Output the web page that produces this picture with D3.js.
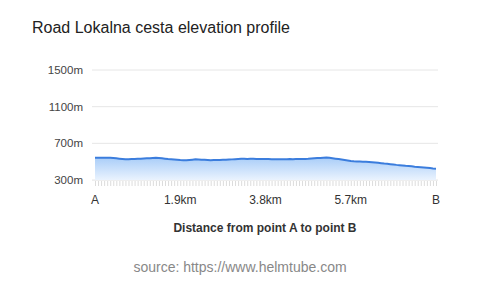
<!DOCTYPE html>
<html><head><meta charset="utf-8">
<script src="https://cdn.jsdelivr.net/npm/d3@7"></script>
<style>body{margin:0;background:#fff}svg{display:block;font-family:"Liberation Sans",Arial,sans-serif}</style>
</head><body><svg id="c" width="480" height="287"></svg>
<script>
const title = "Road Lokalna cesta elevation profile";
const xAxisTitle = "Distance from point A to point B";
const sourceText = "source: https://www.helmtube.com";
const totalKm = 7.6;
const xTickLabels = ["A", "1.9km", "3.8km", "5.7km", "B"];
const yTicks = [300, 700, 1100, 1500];
const elevation = [
543,544,543,544,543,542,
539,536,533,530,527,
527,528,529,531,532,
534,536,538,540,542,
540,537,533,529,526,
523,520,517,515,
516,519,522,525,
524,522,520,518,516,
517,518,519,520,521,
523,525,527,529,531,
531,530,531,531,
530,530,529,528,528,527,
527,526,526,527,527,528,527,528,528,528,
530,532,535,537,539,541,544,546,
543,538,533,528,523,518,513,508,504,
502,501,499,498,496,494,
491,488,484,480,477,473,469,465,
462,459,455,452,449,445,442,
439,436,433,430,426,423
];

const svg = d3.select("#c");
const n = elevation.length;
const x = d3.scaleLinear().domain([0, n - 1]).range([95, 436]);
const y = d3.scaleLinear().domain([300, 1500]).range([180, 70]);

svg.append("text").attr("x", 32).attr("y", 33).attr("font-size", 16).attr("fill", "#222").text(title);

// gridlines
svg.append("g").selectAll("line").data(yTicks).join("line")
  .attr("x1", 92).attr("x2", 438).attr("y1", d => y(d)).attr("y2", d => y(d))
  .attr("stroke", "#e6e6e6").attr("stroke-width", 1);
svg.append("g").selectAll("text").data(yTicks).join("text")
  .attr("x", 83).attr("y", d => y(d)).attr("dy", "0.35em").attr("text-anchor", "end")
  .attr("font-size", 11.5).attr("fill", "#444").text(d => d + "m");

// gradient
const defs = svg.append("defs");
const g = defs.append("linearGradient").attr("id", "grad").attr("x1", 0).attr("x2", 0).attr("y1", 0).attr("y2", 1);
g.append("stop").attr("offset", "0%").attr("stop-color", "#a9cdf8");
g.append("stop").attr("offset", "100%").attr("stop-color", "#eaf3fe");

const area = d3.area().x((d, i) => x(i)).y0(y(300)).y1(d => y(d));
const line = d3.line().x((d, i) => x(i)).y(d => y(d));
svg.append("path").datum(elevation).attr("d", area).attr("fill", "url(#grad)");
svg.append("path").datum(elevation).attr("d", line).attr("fill", "none").attr("stroke", "#3b7ddd").attr("stroke-width", 2);

// small ticks
svg.append("g").selectAll("line").data(d3.range(n)).join("line")
  .attr("x1", d => x(d) + 0.5).attr("x2", d => x(d) + 0.5).attr("y1", 180).attr("y2", 186)
  .attr("stroke", "#dcdcdc").attr("stroke-width", 1);
svg.append("line").attr("x1", 92).attr("x2", 438).attr("y1", 180.5).attr("y2", 180.5).attr("stroke", "#eeeeee");

// x labels
svg.append("g").selectAll("text").data(xTickLabels).join("text")
  .attr("x", (d, i) => x(i * (n - 1) / (xTickLabels.length - 1)))
  .attr("y", 200).attr("dy", "0.35em").attr("text-anchor", "middle")
  .attr("font-size", 12).attr("fill", "#333").text(d => d);

svg.append("text").attr("x", 265).attr("y", 228).attr("dy", "0.35em").attr("text-anchor", "middle")
  .attr("font-size", 12).attr("font-weight", "bold").attr("fill", "#333").text(xAxisTitle);
svg.append("text").attr("x", 240).attr("y", 267).attr("dy", "0.35em").attr("text-anchor", "middle")
  .attr("font-size", 14).attr("fill", "#888").text(sourceText);
</script></body></html>
